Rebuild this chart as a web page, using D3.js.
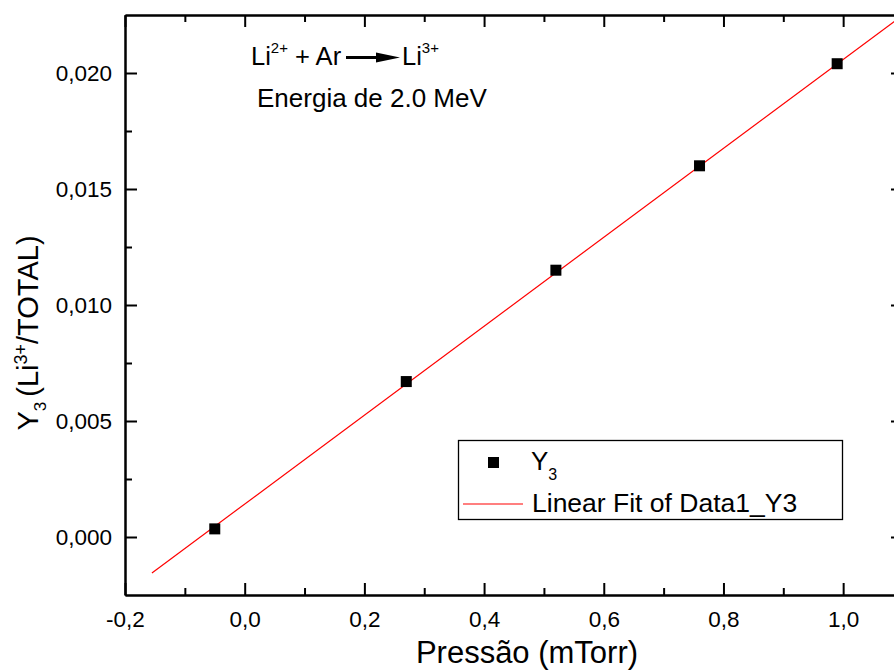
<!DOCTYPE html>
<html>
<head>
<meta charset="utf-8">
<script src="https://cdn.jsdelivr.net/npm/d3@7"></script>
<style>
  body { margin: 0; background: #fff; }
  svg { display: block; font-family: "Liberation Sans", Arial, sans-serif; }
</style>
</head>
<body>
<div id="container"></div>
<script>
/* CONSTANTS AND GLOBALS */
const width = 894,
  height = 671,
  margin = { top: 15, bottom: 76, left: 125, right: -9 }

// data
const pressure = [-0.05, 0.27, 0.52, 0.76, 0.99]
const y3 = [0.00035, 0.0067, 0.0115, 0.0160, 0.0204]

// linear fit end points
const fitX = [-0.155, 1.1]
const fitY = [-0.00155, 0.0225]

const xMajor = [-0.2, 0, 0.2, 0.4, 0.6, 0.8, 1.0]
const xMinor = [-0.1, 0.1, 0.3, 0.5, 0.7, 0.9]
const yMajor = [0, 0.005, 0.010, 0.015, 0.020]
const yMinor = [0.0025, 0.0075, 0.0125, 0.0175]

// decimal comma and a plain hyphen for the minus sign
const comma = f => (d => d3.format(f)(d).replace('.', ',').replace('\u2212', '-'))

let svg, xScale, yScale

function init() {
  xScale = d3.scaleLinear()
    .domain([-0.2, 1.1])
    .range([margin.left, width - margin.right])

  yScale = d3.scaleLinear()
    .domain([-0.0025, 0.0225])
    .range([height - margin.bottom, margin.top])

  svg = d3.select('#container')
    .append('svg')
    .attr('width', width)
    .attr('height', height)

  draw()
}

function styleAxis(g, size) {
  g.attr('font-size', size).attr('font-family', null)
  g.selectAll('path.domain').attr('stroke', '#000').attr('stroke-width', 2)
  g.selectAll('.tick line').attr('stroke', '#000').attr('stroke-width', 2)
  g.selectAll('.tick text').attr('fill', '#000')
}

function draw() {
  const bottom = height - margin.bottom
  const right = width - margin.right

  // + AXES, ticks point inward
  const axes = [
    [d3.axisBottom(xScale).tickValues(xMajor).tickFormat(comma('.1f')).tickSize(-12).tickPadding(16), `translate(0,${bottom})`],
    [d3.axisBottom(xScale).tickValues(xMinor).tickFormat('').tickSize(-7), `translate(0,${bottom})`],
    [d3.axisTop(xScale).tickValues(xMajor).tickFormat('').tickSize(-12), `translate(0,${margin.top})`],
    [d3.axisTop(xScale).tickValues(xMinor).tickFormat('').tickSize(-7), `translate(0,${margin.top})`],
    [d3.axisLeft(yScale).tickValues(yMajor).tickFormat(comma('.3f')).tickSize(-12).tickPadding(13), `translate(${margin.left},0)`],
    [d3.axisLeft(yScale).tickValues(yMinor).tickFormat('').tickSize(-7), `translate(${margin.left},0)`],
    [d3.axisRight(yScale).tickValues(yMajor).tickFormat('').tickSize(-12), `translate(${right},0)`],
    [d3.axisRight(yScale).tickValues(yMinor).tickFormat('').tickSize(-7), `translate(${right},0)`]
  ]
  axes.forEach(([ax, tr]) => {
    ax.tickSizeOuter(0)
    svg.append('g').attr('transform', tr).call(ax).call(g => styleAxis(g, 22.5))
  })

  // + FIT LINE
  const fit = fitX.map((x, i) => ({ x: x, y: fitY[i] }))
  svg.append('path')
    .datum(fit)
    .attr('fill', 'none')
    .attr('stroke', '#ff0000')
    .attr('stroke-width', 1.2)
    .attr('d', d3.line().x(d => xScale(d.x)).y(d => yScale(d.y)))

  // + POINTS
  const s = 11
  svg.selectAll('rect.pt')
    .data(pressure.map((p, i) => ({ p: p, v: y3[i] })))
    .join('rect')
    .attr('class', 'pt')
    .attr('x', d => xScale(d.p) - s / 2)
    .attr('y', d => yScale(d.v) - s / 2)
    .attr('width', s)
    .attr('height', s)
    .attr('fill', '#000')

  // + AXIS TITLES
  svg.append('text')
    .attr('x', 527)
    .attr('y', 663)
    .attr('text-anchor', 'middle')
    .attr('font-size', 31)
    .text('Pressão (mTorr)')

  const yt = svg.append('text')
    .attr('transform', 'translate(38,333) rotate(-90)')
    .attr('text-anchor', 'middle')
    .attr('font-size', 29)
  yt.append('tspan').text('Y')
  yt.append('tspan').attr('font-size', 17).attr('dy', 8).text('3')
  yt.append('tspan').attr('dy', -8).attr('dx', 5).text('(Li')
  yt.append('tspan').attr('font-size', 18).attr('dy', -11).text('3+')
  yt.append('tspan').attr('dy', 11).text('/TOTAL)')

  // + ANNOTATION
  const a = svg.append('text').attr('x', 251).attr('y', 65).attr('font-size', 25.5)
  a.append('tspan').text('Li')
  a.append('tspan').attr('font-size', 15).attr('dy', -12).text('2+')
  a.append('tspan').attr('dy', 12).text(' + Ar')

  svg.append('line')
    .attr('x1', 346).attr('x2', 380)
    .attr('y1', 57.5).attr('y2', 57.5)
    .attr('stroke', '#000').attr('stroke-width', 3)
  svg.append('path')
    .attr('d', 'M376,52.5 L400,57.5 L376,62.5 Z')
    .attr('fill', '#000')

  const b = svg.append('text').attr('x', 402).attr('y', 65).attr('font-size', 25.5)
  b.append('tspan').text('Li')
  b.append('tspan').attr('font-size', 15).attr('dy', -12).text('3+')

  svg.append('text')
    .attr('x', 257)
    .attr('y', 107)
    .attr('font-size', 26)
    .text('Energia de 2.0 MeV')

  // + LEGEND
  const lg = svg.append('g')
  lg.append('rect')
    .attr('x', 458.5).attr('y', 440.5)
    .attr('width', 384).attr('height', 79)
    .attr('fill', '#fff').attr('stroke', '#000').attr('stroke-width', 1.3)
  lg.append('rect')
    .attr('x', 488).attr('y', 457)
    .attr('width', s).attr('height', s)
    .attr('fill', '#000')
  const l1 = lg.append('text').attr('x', 531).attr('y', 470).attr('font-size', 26)
  l1.append('tspan').text('Y')
  l1.append('tspan').attr('font-size', 16).attr('dy', 10).text('3')
  lg.append('line')
    .attr('x1', 463).attr('x2', 523)
    .attr('y1', 504).attr('y2', 504)
    .attr('stroke', '#ff0000').attr('stroke-width', 1.2)
  lg.append('text')
    .attr('x', 532).attr('y', 512)
    .attr('font-size', 26.5)
    .text('Linear Fit of Data1_Y3')
}

init()
</script>
</body>
</html>
